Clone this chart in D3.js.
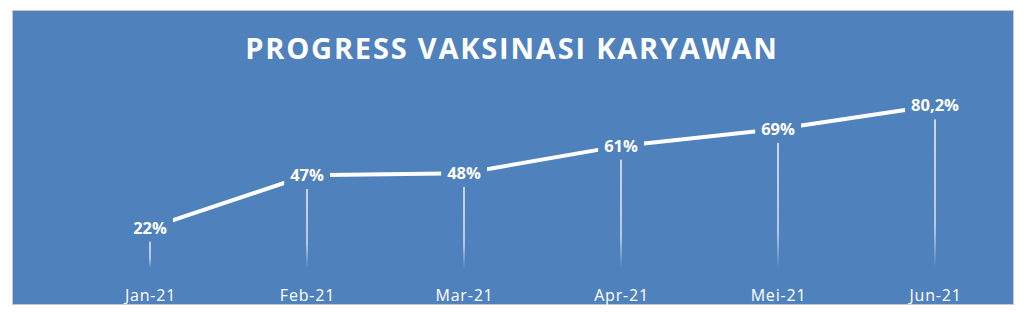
<!DOCTYPE html>
<html>
<head>
<meta charset="utf-8">
<script src="https://cdn.jsdelivr.net/npm/d3@7"></script>
<style>
  html, body { margin: 0; padding: 0; background: #fff; }
  svg { display: block; font-family: "Open Sans", "Noto Sans", sans-serif; }
</style>
</head>
<body>
<svg id="chart" width="1024" height="320"></svg>
<script>
// chart data
var months = ["Jan-21", "Feb-21", "Mar-21", "Apr-21", "Mei-21", "Jun-21"];
var progress = [22, 47, 48, 61, 69, 80.2];
var valueLabels = ["22%", "47%", "48%", "61%", "69%", "80,2%"];

var bg = "#4f81bd";
var svg = d3.select("#chart");

// outer box
svg.append("rect")
  .attr("x", 12.5).attr("y", 10.5)
  .attr("width", 1001).attr("height", 294)
  .attr("fill", bg)
  .attr("stroke", "#c8c8c8")
  .attr("stroke-width", 1);

// title
svg.append("text")
  .attr("x", 512).attr("y", 59)
  .attr("text-anchor", "middle")
  .attr("fill", "#fff")
  .attr("font-size", 29)
  .attr("font-weight", "bold")
  .attr("letter-spacing", 1.8)
  .text("PROGRESS VAKSINASI KARYAWAN");

// scales
var x = d3.scalePoint().domain(months).range([150, 935]);
var y = d3.scaleLinear().domain([0, 100]).range([274, 64]);

// fading drop lines
var defs = svg.append("defs");
var grad = defs.append("linearGradient")
  .attr("id", "dropFade")
  .attr("x1", 0).attr("y1", 0).attr("x2", 0).attr("y2", 1);
grad.append("stop").attr("offset", "0%").attr("stop-color", "#fff").attr("stop-opacity", 0.95);
grad.append("stop").attr("offset", "75%").attr("stop-color", "#fff").attr("stop-opacity", 0.75);
grad.append("stop").attr("offset", "100%").attr("stop-color", "#fff").attr("stop-opacity", 0);

svg.append("g").selectAll("rect")
  .data(months)
  .enter().append("rect")
  .attr("x", function (d) { return x(d) - 0.75; })
  .attr("y", function (d, i) { return y(progress[i]); })
  .attr("width", 1.5)
  .attr("height", function (d, i) { return 268 - y(progress[i]); })
  .attr("fill", "url(#dropFade)");

// line
var line = d3.line()
  .x(function (d, i) { return x(months[i]); })
  .y(function (d) { return y(d); });

svg.append("path")
  .datum(progress)
  .attr("d", line)
  .attr("fill", "none")
  .attr("stroke", "#fff")
  .attr("stroke-width", 4);

// data labels with background box
var lbl = svg.append("g").selectAll("g")
  .data(months)
  .enter().append("g")
  .attr("transform", function (d, i) { return "translate(" + x(d) + "," + y(progress[i]) + ")"; });

lbl.append("text")
  .attr("text-anchor", "middle")
  .attr("dy", "0.35em")
  .attr("fill", "#fff")
  .attr("font-size", 16.5)
  .attr("font-weight", "bold")
  .text(function (d, i) { return valueLabels[i]; });

lbl.each(function () {
  var g = d3.select(this);
  var b = g.select("text").node().getBBox();
  g.insert("rect", "text")
    .attr("x", b.x - 6).attr("y", b.y - 3)
    .attr("width", b.width + 12).attr("height", b.height + 6)
    .attr("fill", bg);
});

// x axis labels
var xAxis = svg.append("g")
  .attr("transform", "translate(0,274)")
  .call(d3.axisBottom(x).tickSize(0).tickPadding(16));
xAxis.select(".domain").remove();
xAxis.selectAll("text")
  .attr("fill", "#fff")
  .attr("font-size", 16)
  .attr("font-family", "'Open Sans', 'Noto Sans', sans-serif")
  .attr("letter-spacing", 0.8);
</script>
</body>
</html>
